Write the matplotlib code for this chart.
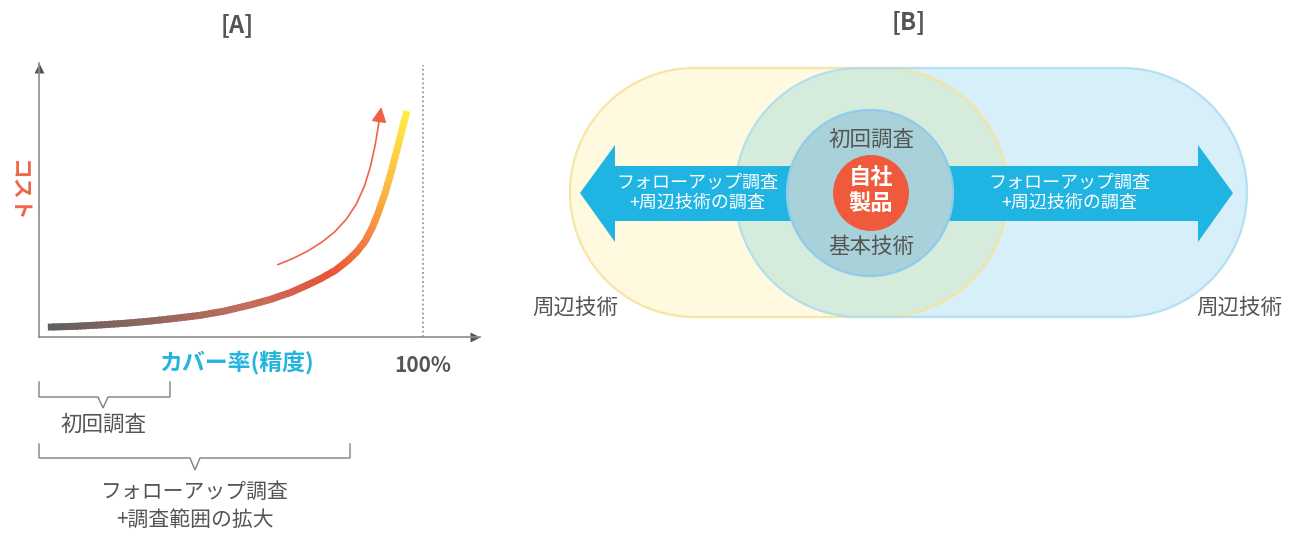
import numpy as np
import matplotlib
matplotlib.use('Agg')
import matplotlib.pyplot as plt
from matplotlib.collections import LineCollection
from matplotlib.colors import LinearSegmentedColormap
from matplotlib.patches import Circle, Polygon

plt.rcParams['font.family'] = ['Noto Sans CJK JP', 'DejaVu Sans']

# ---------------- Panel A data ----------------
coverage = [2.3, 9.4, 15.9, 22.4, 28.9, 35.4, 41.9, 48.4, 55.0, 60.2,
            65.4, 69.3, 73.2, 77.1, 80.2, 82.8, 84.9, 86.7, 88.3, 90.1,
            91.9, 93.2, 94.5, 95.8]
cost = [3.6, 3.9, 4.4, 5.0, 5.8, 6.8, 7.9, 9.5, 11.7, 13.7,
        16.2, 18.6, 21.2, 24.3, 27.7, 31.2, 35.0, 39.8, 45.3, 52.6,
        61.3, 68.4, 75.6, 82.5]
trend_cov = [62.0, 66.0, 70.0, 73.6, 77.0, 80.0, 82.6, 84.7, 86.3, 87.5, 88.4, 89.1]
trend_cost = [26.3, 28.6, 31.4, 34.6, 38.4, 43.0, 48.5, 55.0, 62.3, 70.0, 77.5, 83.9]
full_coverage = 100

title_a = '[A]'
title_b = '[B]'
y_label = 'コスト'
x_label = 'カバー率(精度)'
x_end_label = '100%'
bracket1_label = '初回調査'
bracket2_labels = ['フォローアップ調査', '+調査範囲の拡大']

# ---------------- Panel B labels ----------------
inner_top = '初回調査'
inner_bottom = '基本技術'
core_labels = ['自社', '製品']
arrow_labels = ['フォローアップ調査', '+周辺技術の調査']
outer_label = '周辺技術'

GRAY = '#555555'
W, H = 1299, 533
fig = plt.figure(figsize=(W / 100, H / 100), dpi=100)

ax0 = fig.add_axes([0, 0, 1, 1])
ax0.set_xlim(0, W)
ax0.set_ylim(H, 0)
ax0.axis('off')
ax0.set_zorder(0)

# ---------------- Panel A axes ----------------
axA = fig.add_axes([39 / W, (H - 337) / H, (480 - 39) / W, (337 - 63) / H])
axA.set_zorder(1)
axA.patch.set_alpha(0)
axA.set_xlim(0, 114.8)
axA.set_ylim(0, 100)
for s in ['top', 'right']:
    axA.spines[s].set_visible(False)
for s in ['left', 'bottom']:
    axA.spines[s].set_color('#8c8c8c')
    axA.spines[s].set_linewidth(1.2)
axA.set_xticks([])
axA.set_yticks([])
axA.plot([0], [0.9818], marker='^', markersize=7, color='#555555',
         transform=axA.transAxes, clip_on=False, mec='none')
axA.plot([0.989], [0], marker='>', markersize=7, color='#555555',
         transform=axA.transAxes, clip_on=False, mec='none')

axA.plot([full_coverage, full_coverage], [0, 99.3], color='#9a9a9a',
         ls=(0, (1, 1.5)), lw=1.3)

# gradient curve
cmap = LinearSegmentedColormap.from_list('cg', [
    (0.0, '#5f5f5f'), (0.43, '#c46e5e'), (0.61, '#e9533a'),
    (0.74, '#f58c42'), (0.82, '#fbb441'), (1.0, '#ffee44')])
px = (np.array(coverage) * 3.84)
py = (np.array(cost) * 2.74)
seglen = np.hypot(np.diff(px), np.diff(py))
cum = np.concatenate([[0], np.cumsum(seglen)]) / seglen.sum()
segs, cols = [], []
nsub = 6
nseg = len(coverage) - 1
for i in range(nseg):
    for k in range(nsub):
        t0 = k / nsub
        t1 = (k + 1) / nsub
        if not (i == nseg - 1 and k == nsub - 1):
            t1 += 0.6 / nsub
        x0 = coverage[i] + (coverage[i + 1] - coverage[i]) * t0
        x1 = coverage[i] + (coverage[i + 1] - coverage[i]) * t1
        y0 = cost[i] + (cost[i + 1] - cost[i]) * t0
        y1 = cost[i] + (cost[i + 1] - cost[i]) * t1
        segs.append([(x0, y0), (x1, y1)])
        f = cum[i] + (cum[i + 1] - cum[i]) * (k + 0.5) / nsub
        cols.append(cmap(f))
lc = LineCollection(segs, colors=cols, linewidths=5.0, capstyle='butt',
                    joinstyle='round')
axA.add_collection(lc)

TREND = '#ee6347'
axA.plot(trend_cov[:-1], trend_cost[:-1], color=TREND, lw=1.2,
         solid_capstyle='butt', solid_joinstyle='round')
axA.annotate('', xy=(trend_cov[-1], trend_cost[-1]),
             xytext=(trend_cov[-2], trend_cost[-2]),
             arrowprops=dict(arrowstyle='-|>,head_length=0.9,head_width=0.45',
                             color=TREND, lw=1.2, mutation_scale=10,
                             shrinkA=0, shrinkB=0))

# ---------------- Panel A texts ----------------
ax0.text(237, 25, title_a, fontsize=17, fontweight='bold', color=GRAY,
         ha='center', va='center')
ax0.text(19, 190, y_label, fontsize=15, fontweight='bold', color='#f0644a',
         ha='center', va='center', rotation=-90)
ax0.text(237, 363, x_label, fontsize=16.5, fontweight='bold', color='#25b3e0',
         ha='center', va='center')
ax0.text(423, 366, x_end_label, fontsize=15, fontweight='bold', color=GRAY,
         ha='center', va='center')

BR = '#808080'
def bracket(xl, xr, ytop, yh, xc, ytip):
    xs = [xl, xl, xc - 5, xc, xc + 5, xr, xr]
    ys = [ytop, yh, yh, ytip, yh, yh, ytop]
    ax0.plot(xs, ys, color=BR, lw=1.0, solid_joinstyle='miter')

bracket(39, 170, 382, 397, 103, 408)
ax0.text(103, 425, bracket1_label, fontsize=15.5, color=GRAY,
         ha='center', va='center')
bracket(39, 350, 444, 458, 195, 470)
ax0.text(195, 492, bracket2_labels[0], fontsize=15, color=GRAY,
         ha='center', va='center')
ax0.text(195, 520, bracket2_labels[1], fontsize=15, color=GRAY,
         ha='center', va='center')

# ---------------- Panel B ----------------
def stadium(x0, x1, yc, r):
    a = np.linspace(np.pi / 2, 3 * np.pi / 2, 90)
    left = np.column_stack([x0 + r + r * np.cos(a), yc - r * np.sin(a)])
    a2 = np.linspace(-np.pi / 2, np.pi / 2, 90)
    right = np.column_stack([x1 - r + r * np.cos(a2), yc - r * np.sin(a2)])
    return np.vstack([left, right])

R = 124.5
YC = 192.5
ypts = stadium(570, 1008, YC, R)
bpts = stadium(735, 1247, YC, R)
yellow = Polygon(ypts, closed=True, fc='#fffadf', ec='none', zorder=1)
blue = Polygon(bpts, closed=True, fc='#d7eff9', ec='none', zorder=1)
ax0.add_patch(yellow)
ax0.add_patch(blue)
green = Polygon(bpts, closed=True, fc='#d5ecdc', ec='none', zorder=2)
ax0.add_patch(green)
green.set_clip_path(yellow)
ax0.add_patch(Polygon(ypts, closed=True, fc='none', ec='#f7e39c', lw=1.6,
                      alpha=0.9, zorder=3))
ax0.add_patch(Polygon(bpts, closed=True, fc='none', ec='#a6dbf1', lw=1.6,
                      alpha=0.8, zorder=3))

ARROW = '#20b4e2'
ax0.add_patch(Polygon([(580, 193), (615, 145), (615, 166), (800, 166),
                       (800, 221), (615, 221), (615, 242)],
                      closed=True, fc=ARROW, ec='none', zorder=4))
ax0.add_patch(Polygon([(940, 166), (1198, 166), (1198, 145), (1233, 193),
                       (1198, 242), (1198, 221), (940, 221)],
                      closed=True, fc=ARROW, ec='none', zorder=4))

ax0.add_patch(Circle((870, 193), 83, fc='#a9d1d9', ec='#8ecbed', lw=1.6,
                     zorder=5))
ax0.add_patch(Circle((871, 193), 38, fc='#f05a3c', ec='none', zorder=6))

ax0.text(909, 22, title_b, fontsize=17, fontweight='bold', color=GRAY,
         ha='center', va='center')
ax0.text(871, 140, inner_top, fontsize=15.5, color=GRAY, ha='center',
         va='center', zorder=7)
ax0.text(871, 247, inner_bottom, fontsize=15.5, color=GRAY, ha='center',
         va='center', zorder=7)
ax0.text(871, 178, core_labels[0], fontsize=16, fontweight='bold',
         color='white', ha='center', va='center', zorder=7)
ax0.text(871, 203, core_labels[1], fontsize=16, fontweight='bold',
         color='white', ha='center', va='center', zorder=7)
for cx in (697, 1069):
    ax0.text(cx, 183, arrow_labels[0], fontsize=13, color='white',
             ha='center', va='center', zorder=7)
    ax0.text(cx, 203, arrow_labels[1], fontsize=13, color='white',
             ha='center', va='center', zorder=7)
ax0.text(575, 308, outer_label, fontsize=15.5, color=GRAY, ha='center',
         va='center', zorder=7)
ax0.text(1239, 308, outer_label, fontsize=15.5, color=GRAY, ha='center',
         va='center', zorder=7)

fig.savefig('out.png', dpi=100)
